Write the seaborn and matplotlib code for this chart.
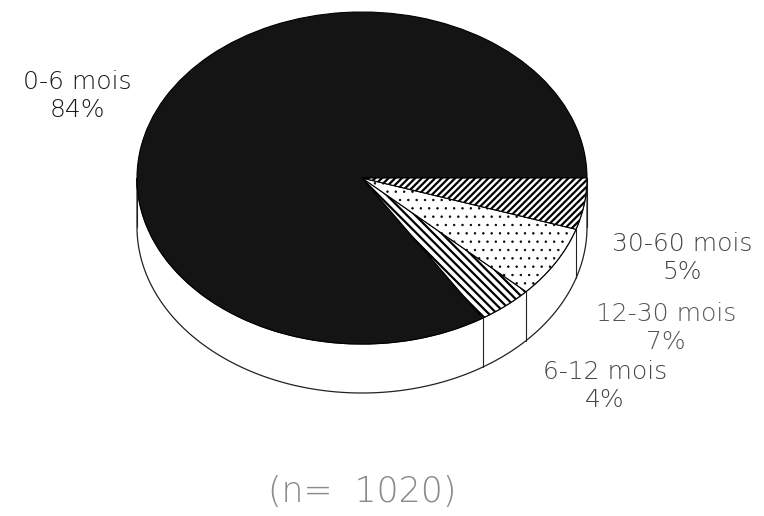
import numpy as np
import matplotlib
matplotlib.use("Agg")
import matplotlib.pyplot as plt
from matplotlib.patches import Polygon
import seaborn as sns

# Age groups and their shares (%)
categories = ["0-6 mois", "6-12 mois", "12-30 mois", "30-60 mois"]
shares = [84, 4, 7, 5]
sample_size = 1020

sns.set_theme(style="white")
plt.rcParams["font.family"] = ["DejaVu Sans"]
plt.rcParams["hatch.linewidth"] = 1.6

W, H = 764, 516
fig = plt.figure(figsize=(W / 100, H / 100), dpi=100)
ax = fig.add_axes([0, 0, 1, 1])

# Pie geometry in pixels: centre, horizontal / vertical semi-axes, side depth
cx, cy, rx, ry = 362, 178, 225, 166
depth = 49 / ry

faces = ["#141414", "white", "white", "white"]
hatches = [None, "\\\\\\\\", "..", "/////"]
hatch_lw = [1.6, 1.6, 0.5, 1.6]

# Side band of the disc (front half only)
theta = np.linspace(np.pi, 2 * np.pi, 300)
top = np.column_stack([np.cos(theta), np.sin(theta)])
bottom = np.column_stack([np.cos(theta[::-1]), np.sin(theta[::-1]) - depth])
ax.add_patch(Polygon(np.vstack([top, bottom]), closed=True, facecolor="white",
                     edgecolor="#222222", linewidth=0.9, zorder=0))

# Top face
wedges, _ = ax.pie(shares, startangle=0, counterclock=True, colors=faces,
                   wedgeprops=dict(edgecolor="black", linewidth=0.8))
for w, h, lw in zip(wedges, hatches, hatch_lw):
    if h:
        w.set_hatch(h)
        if hasattr(w, "set_hatch_linewidth"):
            w.set_hatch_linewidth(lw)

# Vertical edges where slice boundaries meet the visible side
bounds = np.deg2rad(np.r_[180.0, 360.0 * np.cumsum(shares) / np.sum(shares)])
for a in bounds:
    if np.sin(a) <= 1e-9:
        x, y = np.cos(a), np.sin(a)
        ax.plot([x, x], [y, y - depth], color="#222222", lw=0.8, zorder=0.5)

ax.set_aspect("auto")
ax.set_xlim(-cx / rx, (W - cx) / rx)
ax.set_ylim(-(H - cy) / ry, cy / ry)
ax.axis("off")

# Slice labels
label_pos = [(77, 96), (605, 386), (666, 328), (682, 258)]
label_col = ["#1a1a1a", "#444444", "#555555", "#444444"]
for cat, s, (px, py), c in zip(categories, shares, label_pos, label_col):
    fig.text(px / W, 1 - py / H, f"{cat}\n{s}%", ha="center", va="center",
             fontsize=18, fontweight="light", color=c, linespacing=1.25)

fig.text(362 / W, 1 - 492 / H, f"(n=  {sample_size})", ha="center", va="center",
         fontsize=25, fontweight="light", color="#8a8a8a")

fig.savefig("out.png", dpi=100)
